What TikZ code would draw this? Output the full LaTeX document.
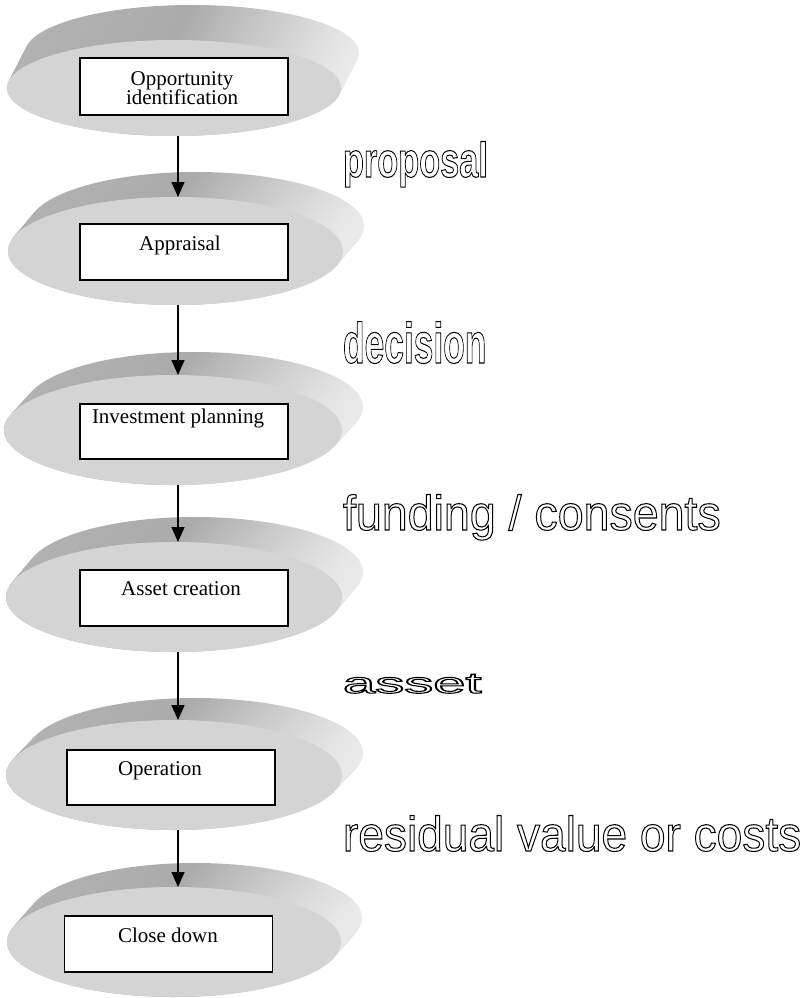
\documentclass[tikz,border=0pt]{standalone}
\usepackage{fontspec}
\usepackage{graphicx}
\setmainfont{Liberation Serif}
\newfontfamily\lblfont{Liberation Sans}
\usetikzlibrary{arrows.meta,shapes.geometric}
\definecolor{rimdark}{gray}{0.70}
\definecolor{rimmid}{gray}{0.67}
\definecolor{rimlight}{gray}{0.92}
\definecolor{facegray}{gray}{0.83}
\newcommand\outl[1]{\special{pdf:literal direct 1 Tr 1.05 w}#1\special{pdf:literal direct 0 Tr}}
\newcommand\mydisc[7]{%
  \foreach \k in {0,...,15}{%
    \pgfmathsetmacro\f{1-\k/15}%
    \shade[left color=rimdark,right color=rimlight,middle color=rimmid] ({#2+\f*#6},{#3+\f*#7}) ellipse [x radius=#4, y radius=#5];
  }%
  \node[face, minimum width=2*#4, minimum height=2*#5] (#1) at (#2,#3) {};
}
\tikzset{
  face/.style={ellipse, fill=facegray, draw=none, inner sep=0pt, outer sep=0pt},
  stagebox/.style={draw=black, line width=1.2pt, fill=white, minimum width=208pt, inner sep=0pt, outer sep=0pt},
  txt/.style={inner sep=0pt, outer sep=0pt, anchor=base, font=\fontsize{21}{24}\selectfont},
  lbl/.style={inner sep=0pt, outer sep=0pt, anchor=base west},
  arr/.style={line width=1.3pt, -{Triangle[width=13pt,length=15pt]}}
}
\begin{document}
\begin{tikzpicture}[x=1pt,y=-1pt]
\useasboundingbox (0,0) rectangle (806,998);
\coordinate (ax) at (178,0);
% discs
\mydisc{f1}{174}{88}{167}{48}{18}{-35}
\mydisc{f2}{175.5}{251}{167.5}{54}{21}{-25}
\mydisc{f3}{173}{430}{169}{55}{21}{-23}
\mydisc{f4}{174}{597}{168}{55}{21}{-25}
\mydisc{f5}{174}{775}{168}{55}{21}{-22}
\mydisc{f6}{174}{942}{167}{55}{21}{-24}
% boxes
\node[stagebox, minimum height=57pt] (b1) at (184,86.5) {};
\node[stagebox, minimum height=56pt] (b2) at (184,252) {};
\node[stagebox, minimum height=55pt] (b3) at (184,431.5) {};
\node[stagebox, minimum height=56pt] (b4) at (184,598) {};
\node[stagebox, minimum height=55pt] (b5) at (171,777.5) {};
\node[stagebox, minimum height=56pt] (b6) at (168.5,944) {};
% box texts
\node[txt] (t1a) at (182,85) {Opportunity};
\node[txt] (t1b) at (182,104) {identification};
\node[txt] (t2) at (180,250) {Appraisal};
\node[txt, anchor=base west] (t3) at (92,423) {Investment planning};
\node[txt] (t4) at (181,595) {Asset creation};
\node[txt] (t5) at (160,775) {Operation};
\node[txt] (t6) at (168,942) {Close down};
% arrows
\draw[arr] (f1.south -| ax) -- (f2.north -| ax);
\draw[arr] (f2.south -| ax) -- (f3.north -| ax);
\draw[arr] (f3.south -| ax) -- (f4.north -| ax);
\draw[arr] (f4.south -| ax) -- (f5.north -| ax);
\draw[arr] (f5.south -| ax) -- (f6.north -| ax);
% outlined labels
\node[lbl] (L1) at (343,177) {\lblfont\bfseries\fontsize{49}{55}\selectfont\scalebox{0.70}[1]{\outl{proposal}}};
\node[lbl] (L2) at (343,363) {\lblfont\bfseries\fontsize{57}{64}\selectfont\scalebox{0.62}[1]{\outl{decision}}};
\node[lbl] (L3) at (343,530) {\lblfont\fontsize{49}{55}\selectfont\scalebox{0.95}[1]{\outl{funding / consents}}};
\node[lbl] (L4) at (343,693) {\lblfont\fontsize{29}{33}\selectfont\scalebox{2.0}[1]{\outl{asset}}};
\node[lbl] (L5) at (343,851) {\lblfont\fontsize{49}{55}\selectfont\scalebox{0.94}[1]{\outl{residual value or costs}}};
\end{tikzpicture}
\end{document}
